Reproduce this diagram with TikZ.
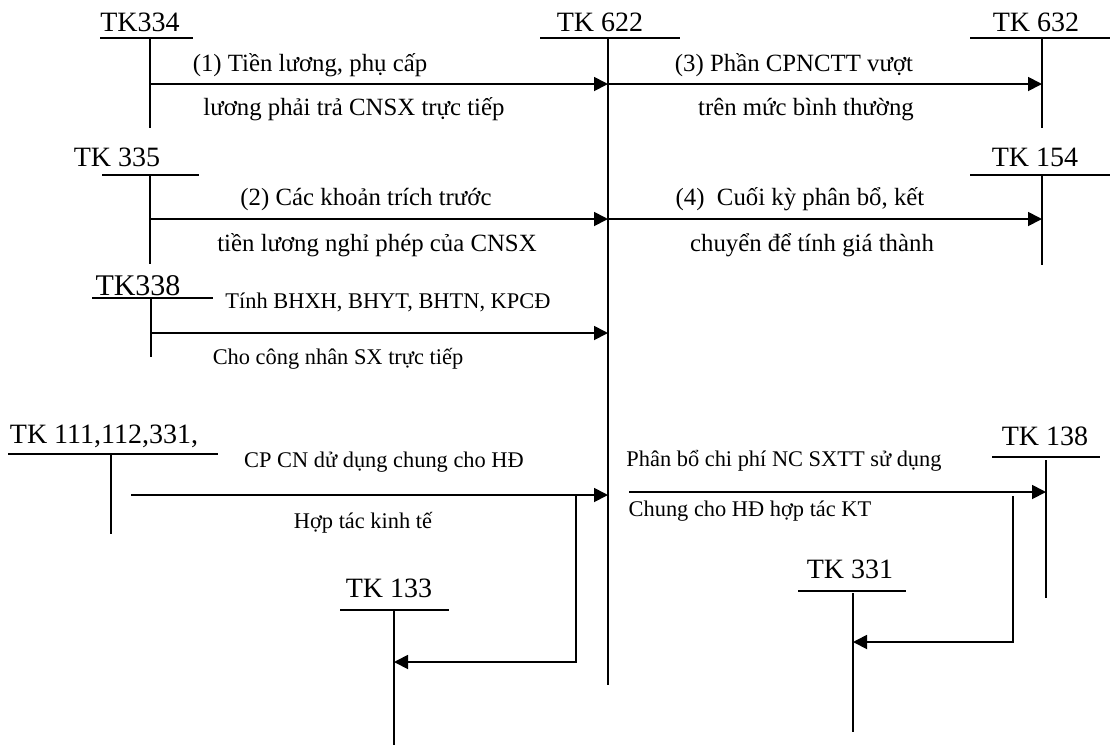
\documentclass[tikz,border=0pt]{standalone}
\usepackage{fontspec}
\setmainfont{Liberation Serif}
\usetikzlibrary{arrows.meta, calc}
\newcommand{\acctsize}{\fontsize{14}{16}\selectfont}
\newcommand{\notesize}{\fontsize{12.4}{14}\selectfont}
\newcommand{\smallnote}{\fontsize{11.2}{13}\selectfont}
\tikzset{
    tchart/.style={x=0.5pt, y=-0.5pt, line width=0.9pt, >={Triangle[length=7pt, width=7pt]}},
    acct/.style={font=\acctsize, inner sep=0pt, anchor=base},
    note/.style={font=\notesize, inner sep=0pt, anchor=base},
    snote/.style={font=\smallnote, inner sep=0pt, anchor=base},
    flow/.style={->},
}
\begin{document}
\begin{tikzpicture}[tchart]
    \useasboundingbox (0,0) rectangle (1110,746);

    % T-accounts: title, bar, junction and foot of the vertical
    \node[acct] (n334) at (140,31) {TK334};
    \draw (100,38) -- (193,38);
    \coordinate (t334) at (150,38);
    \coordinate (f334) at (150,128);

    \node[acct] (n622) at (600,31) {TK 622};
    \draw (540,38) -- (680,38);
    \coordinate (t622) at (608,38);
    \coordinate (f622) at (608,685);

    \node[acct] (n632) at (1036,31) {TK 632};
    \draw (970,38) -- (1110,38);
    \coordinate (t632) at (1042,38);
    \coordinate (f632) at (1042,128);

    \node[acct] (n335) at (117,166) {TK 335};
    \draw (102,175) -- (199,175);
    \coordinate (t335) at (150,175);
    \coordinate (f335) at (150,264);

    \node[acct] (n154) at (1035,166) {TK 154};
    \draw (970,175) -- (1110,175);
    \coordinate (t154) at (1042,175);
    \coordinate (f154) at (1042,265);

    \node[acct, font=\fontsize{15}{17}\selectfont] (n338) at (138,295) {TK338};
    \draw (92,298) -- (213,298);
    \coordinate (t338) at (151,298);
    \coordinate (f338) at (151,357);

    \node[acct] (n111) at (104,443) {TK 111,112,331,};
    \draw (8,454) -- (218,454);
    \coordinate (t111) at (111,454);
    \coordinate (f111) at (111,534);

    \node[acct] (n133) at (389,597) {TK 133};
    \draw (340,610) -- (449,610);
    \coordinate (t133) at (394,610);
    \coordinate (f133) at (394,745);

    \node[acct] (n138) at (1045,445) {TK 138};
    \draw (992,457) -- (1100,457);
    \coordinate (t138) at (1046,460);
    \coordinate (f138) at (1046,598);

    \node[acct] (n331) at (850,578) {TK 331};
    \draw (798,591) -- (906,591);
    \coordinate (t331) at (853,593);
    \coordinate (f331) at (853,732);

    \foreach \k in {334,622,632,335,154,338,111,133,138,331}
        \draw (t\k) -- (f\k);

    % entries
    \coordinate (s1) at (150,84);
    \draw[flow] (s1) -- (s1 -| t622);
    \draw[flow] (s1 -| t622) -- (s1 -| t632);
    \node[note] (l1a) at (310,71) {(1) Tiền lương, phụ cấp};
    \node[note] (l1b) at (354,115) {lương phải trả CNSX trực tiếp};
    \node[note] (l3a) at (794,71) {(3) Phần CPNCTT vượt};
    \node[note] (l3b) at (806,115) {trên mức bình thường};

    \coordinate (s2) at (150,219);
    \draw[flow] (s2) -- (s2 -| t622);
    \draw[flow] (s2 -| t622) -- (s2 -| t154);
    \node[note] (l2a) at (366,205) {(2) Các khoản trích trước};
    \node[note] (l2b) at (377,251) {tiền lương nghỉ phép của CNSX};
    \node[note] (l4a) at (800,205) {(4)\ \ Cuối kỳ phân bổ, kết};
    \node[note] (l4b) at (812,251) {chuyển để tính giá thành};

    \coordinate (s5) at (151,333);
    \draw[flow] (s5) -- (s5 -| t622);
    \node[snote] (l5a) at (388,308) {Tính BHXH, BHYT, BHTN, KPCĐ};
    \node[snote] (l5b) at (338,364) {Cho công nhân SX trực tiếp};

    \coordinate (s6) at (131,495);
    \coordinate (k6) at (576,495);
    \coordinate (e6) at (576,662);
    \draw[flow] (s6) -- (s6 -| t622);
    \draw[flow] (k6) -- (e6) -- (e6 -| t133);
    \node[snote] (l6a) at (384,467) {CP CN dử dụng chung cho HĐ};
    \node[snote] (l6b) at (363,528) {Hợp tác kinh tế};

    \coordinate (s7) at (629,492);
    \coordinate (k7) at (1013,496);
    \coordinate (e7) at (1013,642);
    \draw[flow] (s7) -- (s7 -| t138);
    \draw[flow] (k7) -- (e7) -- (e7 -| t331);
    \node[snote] (l7a) at (784,466) {Phân bổ chi phí NC SXTT sử dụng};
    \node[snote] (l7b) at (750,516) {Chung cho HĐ hợp tác KT};
\end{tikzpicture}
\end{document}
